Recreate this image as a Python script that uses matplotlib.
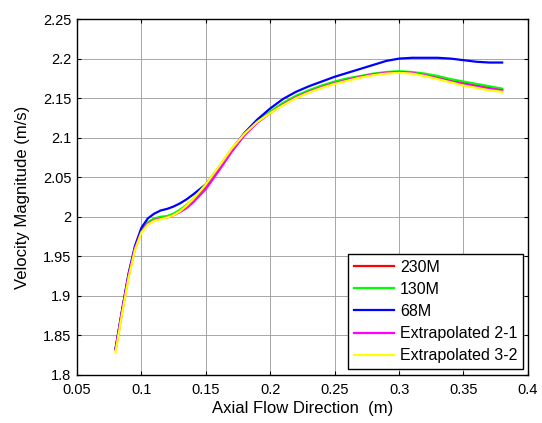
import matplotlib
matplotlib.use("Agg")
import matplotlib.pyplot as plt

plt.rcParams['font.family'] = ['Liberation Sans', 'DejaVu Sans']

# Axial position (m)
x = [0.08, 0.085, 0.09, 0.095, 0.1, 0.105, 0.11, 0.115, 0.12, 0.125, 0.13,
     0.135, 0.14, 0.15, 0.16, 0.17, 0.18, 0.19, 0.2, 0.21, 0.22, 0.23, 0.24,
     0.25, 0.26, 0.27, 0.28, 0.29, 0.3, 0.31, 0.32, 0.33, 0.34, 0.35, 0.36,
     0.37, 0.38]

v_230m = [1.832, 1.880, 1.925, 1.960, 1.982, 1.992, 1.997, 1.999, 2.000, 2.003,
          2.008, 2.014, 2.021, 2.039, 2.061, 2.084, 2.104, 2.120, 2.132, 2.143,
          2.152, 2.159, 2.165, 2.170, 2.174, 2.177, 2.180, 2.182, 2.183, 2.182,
          2.180, 2.176, 2.172, 2.169, 2.166, 2.163, 2.160]
v_130m = [1.833, 1.881, 1.926, 1.961, 1.983, 1.993, 1.998, 2.000, 2.001, 2.004,
          2.009, 2.015, 2.022, 2.040, 2.062, 2.085, 2.105, 2.121, 2.133, 2.144,
          2.153, 2.160, 2.166, 2.171, 2.175, 2.178, 2.181, 2.183, 2.184, 2.183,
          2.181, 2.178, 2.174, 2.171, 2.168, 2.165, 2.162]
v_68m = [1.834, 1.882, 1.928, 1.963, 1.986, 1.998, 2.004, 2.008, 2.010, 2.013,
         2.017, 2.022, 2.028, 2.041, 2.062, 2.085, 2.106, 2.123, 2.137, 2.149,
         2.158, 2.165, 2.171, 2.177, 2.182, 2.187, 2.192, 2.197, 2.200, 2.201,
         2.201, 2.201, 2.200, 2.198, 2.196, 2.195, 2.195]
v_ex21 = [1.833, 1.881, 1.926, 1.960, 1.981, 1.991, 1.996, 1.998, 1.999, 2.002,
          2.006, 2.011, 2.018, 2.035, 2.058, 2.082, 2.103, 2.119, 2.131, 2.142,
          2.151, 2.158, 2.164, 2.169, 2.173, 2.177, 2.180, 2.182, 2.183, 2.182,
          2.179, 2.175, 2.171, 2.168, 2.165, 2.162, 2.160]
v_ex32 = [1.829, 1.877, 1.922, 1.958, 1.980, 1.990, 1.995, 1.997, 1.999, 2.002,
          2.007, 2.014, 2.022, 2.041, 2.063, 2.086, 2.105, 2.120, 2.131, 2.141,
          2.150, 2.157, 2.163, 2.168, 2.172, 2.176, 2.179, 2.181, 2.182, 2.181,
          2.178, 2.174, 2.170, 2.166, 2.163, 2.160, 2.158]

series = [
    ("230M", v_230m, "#ff0000"),
    ("130M", v_130m, "#00ff00"),
    ("68M", v_68m, "#0000ff"),
    ("Extrapolated 2-1", v_ex21, "#ff00ff"),
    ("Extrapolated 3-2", v_ex32, "#ffff00"),
]

fig = plt.figure(figsize=(5.42, 4.23), dpi=100)
ax = fig.add_axes([0.142, 0.1135, 0.832, 0.8415])

for name, vals, col in series:
    ax.plot(x, vals, color=col, lw=1.6, label=name)

ax.set_xlim(0.05, 0.4)
ax.set_ylim(1.8, 2.25)
ax.set_xticks([0.05, 0.1, 0.15, 0.2, 0.25, 0.3, 0.35, 0.4])
ax.set_xticklabels(["0.05", "0.1", "0.15", "0.2", "0.25", "0.3", "0.35", "0.4"])
ax.set_yticks([1.8, 1.85, 1.9, 1.95, 2.0, 2.05, 2.1, 2.15, 2.2, 2.25])
ax.set_yticklabels(["1.8", "1.85", "1.9", "1.95", "2", "2.05", "2.1", "2.15", "2.2", "2.25"])
ax.tick_params(direction='in', top=True, right=True, labelsize=10.5, length=3)
ax.tick_params(axis='x', pad=6)
ax.tick_params(axis='y', pad=4)
ax.grid(True, color='0.6', lw=0.6)
for s in ax.spines.values():
    s.set_linewidth(1.0)

ax.set_xlabel("Axial Flow Direction  (m)", fontsize=12, labelpad=3)
ax.set_ylabel("Velocity Magnitude (m/s)", fontsize=12, labelpad=9)

leg = ax.legend(loc='lower right', fontsize=11.5, fancybox=False, framealpha=1,
                edgecolor='black', handlelength=2.5, borderpad=0.35,
                labelspacing=0.45, handletextpad=0.4, borderaxespad=0,
                bbox_to_anchor=(0.989, 0.017))
leg.get_frame().set_linewidth(1.0)

fig.savefig("out.png", dpi=100)
